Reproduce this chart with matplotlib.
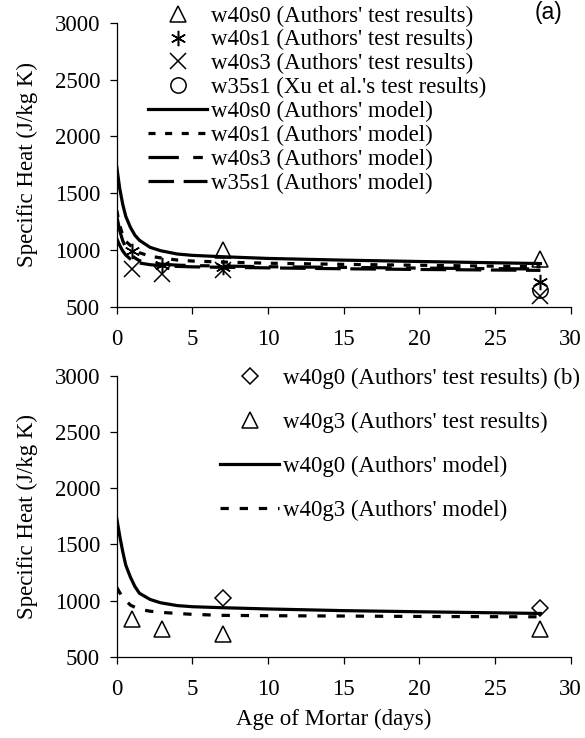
import matplotlib
matplotlib.use("Agg")
import matplotlib.pyplot as plt

plt.rcParams['font.family'] = ['Liberation Serif', 'DejaVu Serif']

# test results (panel a)
age_s0 = [7, 28]
cp_s0 = [1000, 920]
age_s1 = [1, 3, 7, 28]
cp_s1 = [990, 870, 850, 720]
age_s3 = [1, 3, 7, 28]
cp_s3 = [830, 790, 820, 590]
age_xu = [28]
cp_xu = [650]

# test results (panel b)
age_g0 = [7, 28]
cp_g0 = [1020, 930]
age_g3 = [1, 3, 7, 28]
cp_g3 = [840, 745, 700, 750]

# model curves
model_age = [0, 0.2, 0.4, 0.6, 0.9, 1.2, 1.5, 2.2, 2.9, 4, 5, 7, 10, 15, 20, 28]
model_s0 = [1732, 1540, 1400, 1295, 1200, 1130, 1085, 1023, 993, 964, 952, 940, 925, 910, 898, 880]
model_s1 = [1350, 1215, 1130, 1075, 1040, 1000, 975, 945, 930, 911, 902, 893, 883, 873, 865, 852]
model_s3 = [1300, 1170, 1080, 1020, 960, 930, 905, 885, 875, 866, 862, 858, 852, 846, 840, 832]
model_35 = [1100, 1040, 990, 955, 920, 900, 885, 870, 862, 855, 851, 847, 842, 834, 828, 820]
model_g0 = [1733, 1575, 1435, 1315, 1210, 1125, 1065, 1010, 980, 955, 945, 936, 925, 910, 900, 885]
model_g3 = [1118, 1070, 1032, 1000, 960, 940, 922, 905, 895, 885, 877, 868, 865, 862, 858, 855]

fs = 16.5
lw = 2.3
mk = dict(linestyle='none', markerfacecolor='none', markeredgecolor='black',
          markeredgewidth=1.1, markersize=11, color='black')

fig = plt.figure(figsize=(5.85, 7.38), dpi=100)
ax1 = fig.add_axes([0.1995, 0.5844, 0.776, 0.3848])
ax2 = fig.add_axes([0.1995, 0.1102, 0.776, 0.3803])

# panel (a)
ax1.plot(age_s0, cp_s0, marker='^', label='w40s0 (Authors\' test results)', **mk)
ax1.plot(age_s1, cp_s1, marker=(6, 2, 0), label='w40s1 (Authors\' test results)', **mk)
ax1.plot(age_s3, cp_s3, marker='x', label='w40s3 (Authors\' test results)', **mk)
ax1.plot(age_xu, cp_xu, marker='o', label='w35s1 (Xu et al.\'s test results)', **mk)
ax1.plot(model_age, model_s0, color='black', lw=lw, label='w40s0 (Authors\' model)')
ax1.plot(model_age, model_s1, color='black', lw=lw, dashes=(2.2, 3),
         label='w40s1 (Authors\' model)')
ax1.plot(model_age, model_s3, color='black', lw=lw, dashes=(9.5, 4.5, 3, 4.5),
         label='w40s3 (Authors\' model)')
ax1.plot(model_age, model_35, color='black', lw=lw, dashes=(8, 3),
         label='w35s1 (Authors\' model)')
ax1.text(548 / 585, 1 - 13 / 738, '(a)', transform=fig.transFigure, fontsize=fs,
         family='Liberation Sans', ha='center', va='center')

# panel (b)
ax2.plot(age_g0, cp_g0, marker='D', label='w40g0 (Authors\' test results) (b)',
         **{**mk, 'markersize': 8.5})
ax2.plot(age_g3, cp_g3, marker='^', label='w40g3 (Authors\' test results)', **mk)
ax2.plot(model_age, model_g0, color='black', lw=lw, label='w40g0 (Authors\' model)')
ax2.plot(model_age, model_g3, color='black', lw=lw, dashes=(2.6, 3.4),
         label='w40g3 (Authors\' model)')

for ax in (ax1, ax2):
    ax.set_xlim(0, 30)
    ax.set_ylim(500, 3000)
    ax.set_xticks(range(0, 31, 5))
    ax.set_yticks(range(500, 3001, 500))
    ax.spines['top'].set_visible(False)
    ax.spines['right'].set_visible(False)
    ax.spines['left'].set_linewidth(0.9)
    ax.spines['bottom'].set_linewidth(0.9)
    ax.tick_params(axis='x', direction='out', length=5, width=0.9, pad=11, labelsize=fs)
    ax.tick_params(axis='y', direction='out', length=5, width=0.9, pad=7, labelsize=fs)
    ax.set_ylabel('Specific Heat (J/kg K)', fontsize=fs)
    ax.yaxis.set_label_coords(-0.173, 0.5)

ax2.set_xlabel('Age of Mortar (days)', fontsize=fs)
ax2.xaxis.set_label_coords(0.478, -0.185)

ax1.legend(loc='upper left', bbox_to_anchor=(137 / 585, 1 + 6 / 738),
           bbox_transform=fig.transFigure, frameon=False, fontsize=fs,
           borderpad=0, labelspacing=0.12, handlelength=2.55, handletextpad=0.2)
ax2.legend(loc='upper left', bbox_to_anchor=(209 / 585, 1 - 356 / 738),
           bbox_transform=fig.transFigure, frameon=False, fontsize=fs,
           borderpad=0, labelspacing=1.0, handlelength=2.55, handletextpad=0.2)

fig.savefig('out.png', dpi=100)
